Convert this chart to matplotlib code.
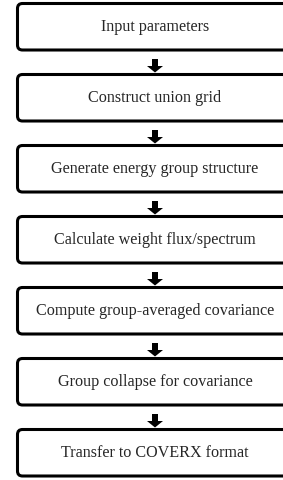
import matplotlib
matplotlib.use("Agg")
import matplotlib.pyplot as plt
from matplotlib.patches import FancyBboxPatch, FancyArrow

steps = [
    "Input parameters",
    "Construct union grid",
    "Generate energy group structure",
    "Calculate weight flux/spectrum",
    "Compute group-averaged covariance",
    "Group collapse for covariance",
    "Transfer to COVERX format",
]

W, H = 283, 480
fig = plt.figure(figsize=(W / 100, H / 100), dpi=100)
ax = fig.add_axes([0, 0, 1, 1])
ax.set_xlim(0, W)
ax.set_ylim(H, 0)
ax.axis("off")

x0, x1 = 17.5, 300
top0, step, bh = 3.5, 71, 46.5
cx = 155
r = 5

for i, label in enumerate(steps):
    top = top0 + i * step
    box = FancyBboxPatch((x0 + r, top + r), x1 - x0 - 2 * r, bh - 2 * r,
                         boxstyle=f"round,pad={r}", linewidth=2.2,
                         edgecolor="black", facecolor="white", clip_on=False)
    ax.add_patch(box)
    ax.text(cx, top + bh / 2, label, ha="center", va="center",
            fontsize=11.6, family="Liberation Serif", color="#262626")
    if i < len(steps) - 1:
        ay = top + bh + 9
        ar = FancyArrow(cx, ay, 0, 13.5, width=6, head_width=16, head_length=6.5,
                        length_includes_head=True, color="black", linewidth=0)
        ax.add_patch(ar)

fig.savefig("out.png", dpi=100)
